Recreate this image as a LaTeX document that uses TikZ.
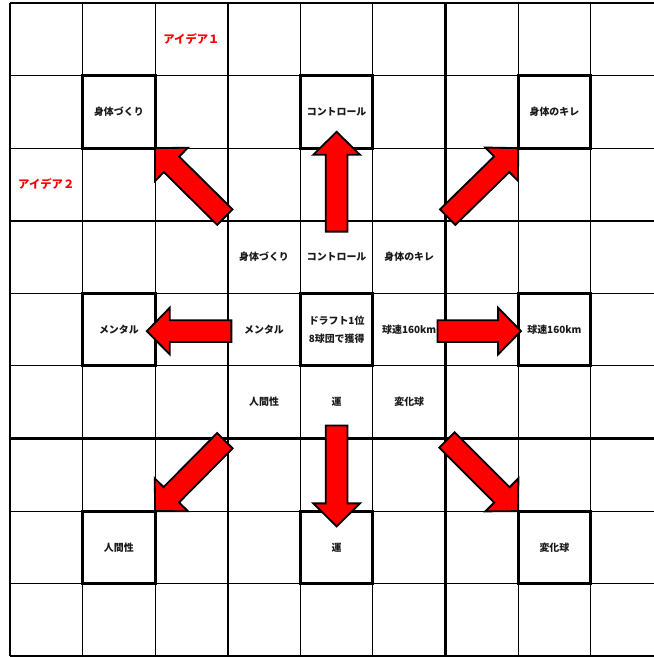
\documentclass[tikz,border=0pt]{standalone}
\usepackage{fontspec}
\setmainfont{Noto Sans CJK JP}
\usepackage{tikz}
\usetikzlibrary{calc,positioning}
\definecolor{ink}{HTML}{1A1A1A}
\definecolor{ideared}{HTML}{FF0000}
\tikzset{
    every picture/.style={line join=miter},
    gridline/.style={draw=black,line width=0.7pt},
    blockline/.style={draw=black,line width=1.6pt},
    cellnote/.style={minimum size=1.8cm,inner sep=1pt,outer sep=0pt,
      font=\fontsize{7}{12.5}\selectfont\bfseries,text=ink,align=center},
    keybox/.style={cellnote,draw=black,line width=2.2pt},
    idealabel/.style={font=\fontsize{8}{10}\selectfont\bfseries,text=ideared},
    bigarrow/.style={fill=ideared,draw=black,line width=1.3pt,line join=miter}
}
\newcommand{\shaftw}{0.27cm}
\newcommand{\headw}{0.58cm}
\newcommand{\headl}{0.57cm}
\newcommand{\blockarrow}[2]{%
  \coordinate (hb) at ($(#2)!\headl!(#1)$);
  \draw[bigarrow] ($(#1)!\shaftw!90:(#2)$) -- ($(hb)!\shaftw!90:(#2)$)
    -- ($(hb)!\headw!90:(#2)$) -- (#2) -- ($(hb)!\headw!-90:(#2)$)
    -- ($(hb)!\shaftw!-90:(#2)$) -- ($(#1)!\shaftw!-90:(#2)$) -- cycle;}

\begin{document}
\begin{tikzpicture}[x=1.8cm,y=-1.8cm]
  \useasboundingbox[fill=white] (-0.1376,-0.041) rectangle (8.872,9.01);
  \clip (-0.1376,-0.041) rectangle (8.872,9.01);
  % grid
  \foreach \i in {0,...,9}
    \draw[gridline] (\i,0) -- (\i,9) (0,\i) -- (9,\i);
  \foreach \i in {0,3,6,9}
    \draw[blockline] (\i,0) -- (\i,9) (0,\i) -- (9,\i);

  \node[idealabel] (idea1) at (2.5,0.5) {アイデア１};
  \node[idealabel] (idea2) at (0.5,2.5) {アイデア２};

  % centre block
  \node[keybox] (mid) at (4.5,4.5) {ドラフト1位\\8球団で獲得};
  \node[cellnote,above left=0pt and 0pt of mid] (m1) {身体づくり};
  \node[cellnote,above=0pt of mid] (m2) {コントロール};
  \node[cellnote,above right=0pt and 0pt of mid] (m3) {身体のキレ};
  \node[cellnote,left=0pt of mid] (m4) {メンタル};
  \node[cellnote,right=0pt of mid] (m6) {球速160km};
  \node[cellnote,below left=0pt and 0pt of mid] (m7) {人間性};
  \node[cellnote,below=0pt of mid] (m8) {運};
  \node[cellnote,below right=0pt and 0pt of mid] (m9) {変化球};

  % outer blocks
  \node[keybox] (k1) at (1.5,1.5) {身体づくり};
  \node[keybox] (k2) at (4.5,1.5) {コントロール};
  \node[keybox] (k3) at (7.5,1.5) {身体のキレ};
  \node[keybox] (k4) at (1.5,4.5) {メンタル};
  \node[keybox] (k6) at (7.5,4.5) {球速160km};
  \node[keybox] (k7) at (1.5,7.5) {人間性};
  \node[keybox] (k8) at (4.5,7.5) {運};
  \node[keybox] (k9) at (7.5,7.5) {変化球};

  % arrow ends
  \coordinate (a1) at (2.96,2.95);
  \coordinate (a2) at (4.5,3.15);
  \coordinate (a2t) at (4.5,1.775);
  \coordinate (a3) at (6.03,2.95);
  \coordinate (a4) at (3.05,4.52);
  \coordinate (a4t) at (1.885,4.52);
  \coordinate (a6) at (5.89,4.52);
  \coordinate (a6t) at (7.04,4.52);
  \coordinate (a7) at (2.96,6.03);
  \coordinate (a8) at (4.5,5.82);
  \coordinate (a8t) at (4.5,7.21);
  \coordinate (a9) at (6.02,6.02);

  \blockarrow{a1}{k1.south east}
  \blockarrow{a2}{a2t}
  \blockarrow{a3}{k3.south west}
  \blockarrow{a4}{a4t}
  \blockarrow{a6}{a6t}
  \blockarrow{a7}{k7.north east}
  \blockarrow{a8}{a8t}
  \blockarrow{a9}{k9.north west}
\end{tikzpicture}
\end{document}
